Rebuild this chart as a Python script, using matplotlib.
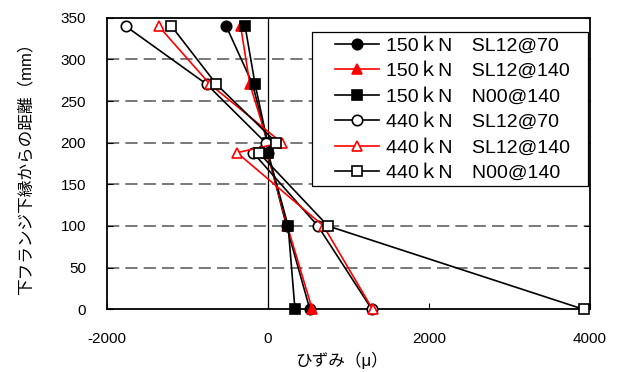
import matplotlib
matplotlib.use("Agg")
import matplotlib.pyplot as plt
from matplotlib.patches import Rectangle

plt.rcParams['font.family'] = ['Liberation Sans', 'Noto Sans CJK JP', 'DejaVu Sans']

heights = [340, 270, 200, 188, 100, 0]
s150_sl70 = [-520, -190, -10, -5, 230, 520]
s150_sl140 = [-340, -225, 0, -10, 240, 550]
s150_n00 = [-285, -160, -5, 0, 250, 335]
s440_sl70 = [-1770, -760, -30, -185, 620, 1290]
s440_sl140 = [-1360, -720, 170, -385, 690, 1300]
s440_n00 = [-1200, -640, 105, -115, 745, 3920]

labels = ["150ｋN　SL12@70", "150ｋN　SL12@140", "150ｋN　N00@140",
          "440ｋN　SL12@70", "440ｋN　SL12@140", "440ｋN　N00@140"]
xticks = [-2000, 0, 2000, 4000]
yticks = [0, 50, 100, 150, 200, 250, 300, 350]

fig = plt.figure(figsize=(6.4, 3.72), dpi=100)
ax = fig.add_axes([107/640, 1-309.3/372, (590-107)/640, (309.3-17.7)/372])

for y in yticks[1:-1]:
    ax.axhline(y, color='#555555', lw=1.1, ls=(0, (8, 4)), zorder=1)
ax.axvline(0, color='black', lw=0.9, zorder=1)

specs = [
    (s150_sl70, 'black', 'o', 'black'),
    (s150_sl140, 'red', '^', 'red'),
    (s150_n00, 'black', 's', 'black'),
    (s440_sl70, 'black', 'o', 'white'),
    (s440_sl140, 'red', '^', 'white'),
    (s440_n00, 'black', 's', 'white'),
]
for (vals, c, m, fc), lab in zip(specs, labels):
    ax.plot(vals, heights, color=c, marker=m, mfc=fc, mec=c, ms=7.5, mew=1.2,
            lw=1.2, label=lab, zorder=3, clip_on=False)

ax.set_xlim(-2000, 4000)
ax.set_ylim(0, 350)
ax.set_xticks(xticks)
ax.set_xticklabels([str(v) for v in xticks])
ax.set_yticks(yticks)
ax.tick_params(direction='in', length=4, labelsize=11, right=True, top=False, width=0.8)
ax.tick_params(axis='x', pad=16)
ax.tick_params(axis='y', pad=15)
for sp in ax.spines.values():
    sp.set_linewidth(1.3)

ax.set_xlabel("ひずみ（μ）", fontsize=12)
ax.xaxis.set_label_coords((342-107)/483, -(352-309.3)/291.6)
ax.set_ylabel("下フランジ下縁からの距離（mm）", fontsize=12)
ax.yaxis.set_label_coords((34-107)/483, (309.3-165)/291.6)

box = Rectangle((312/640, 1-186/372), (588-312)/640, (186-32)/372,
                transform=fig.transFigure, facecolor='white', edgecolor='black',
                lw=0.9, zorder=4)
ax.add_artist(box)

leg = ax.legend(loc='upper left', bbox_to_anchor=(335/640, 1-37/372),
                bbox_transform=fig.transFigure, fontsize=14, frameon=False,
                handlelength=2.27, labelspacing=0.40, borderpad=0,
                handletextpad=0.36, borderaxespad=0)
leg.set_zorder(5)

fig.savefig("out.png", dpi=100)
